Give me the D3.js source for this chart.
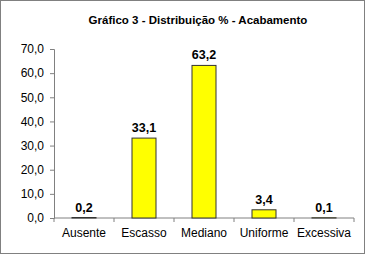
<!DOCTYPE html>
<html>
<head>
<meta charset="utf-8">
<script src="https://cdn.jsdelivr.net/npm/d3@7"></script>
<style>
  body { margin: 0; background: #fff; }
  svg { display: block; font-family: Arial, 'Liberation Sans', sans-serif; }
</style>
</head>
<body>
<div id="chart"></div>
<script>
const categories = ['Ausente', 'Escasso', 'Mediano', 'Uniforme', 'Excessiva']
const values = [0.2, 33.1, 63.2, 3.4, 0.1]
const yTicks = [0, 10, 20, 30, 40, 50, 60, 70]
const title = 'Gráfico 3 - Distribuição % - Acabamento'

const W = 365
const H = 254
const margin = { top: 49, left: 54, right: 11, bottom: 36 }

const svg = d3
  .select('#chart')
  .append('svg')
  .attr('width', W)
  .attr('height', H)

// outer frame
svg
  .append('rect')
  .attr('x', 0.5)
  .attr('y', 0.5)
  .attr('width', W - 1)
  .attr('height', H - 1)
  .attr('fill', '#fff')
  .attr('stroke', '#808080')

svg
  .append('text')
  .text(title)
  .attr('x', 198)
  .attr('y', 24)
  .attr('text-anchor', 'middle')
  .style('font-size', '11.5px')
  .style('font-weight', 'bold')

const x = d3
  .scaleBand()
  .domain(categories)
  .range([margin.left, W - margin.right])
  .paddingInner(0.6)
  .paddingOuter(0.3)

const y = d3
  .scaleLinear()
  .domain([0, 70])
  .range([H - margin.bottom, margin.top])

const fmt = v => d3.format('.1f')(v).replace('.', ',')

// y axis
const yAxis = svg
  .append('g')
  .attr('transform', 'translate(' + margin.left + ',0)')
  .call(d3.axisLeft(y).tickValues(yTicks).tickFormat(fmt).tickSize(4).tickPadding(6))
yAxis.select('.domain').attr('stroke', '#808080')
yAxis.selectAll('.tick line').attr('stroke', '#808080')
yAxis.selectAll('text').style('font-size', '12px').attr('fill', '#000')

// x axis with ticks at category boundaries
const xAxisG = svg.append('g').attr('transform', 'translate(0,' + y(0) + ')')
xAxisG
  .append('line')
  .attr('x1', margin.left)
  .attr('x2', W - margin.right)
  .attr('stroke', '#808080')
const step = x.step()
const bounds = categories.map(c => x(c) - (step - x.bandwidth()) / 2)
bounds.push(W - margin.right)
xAxisG
  .selectAll('.xtick')
  .data(bounds)
  .enter()
  .append('line')
  .attr('x1', d => d)
  .attr('x2', d => d)
  .attr('y1', 0)
  .attr('y2', 4)
  .attr('stroke', '#808080')

xAxisG
  .selectAll('.xlabel')
  .data(categories)
  .enter()
  .append('text')
  .text(d => d)
  .attr('x', d => x(d) + x.bandwidth() / 2)
  .attr('y', 19)
  .attr('text-anchor', 'middle')
  .style('font-size', '12px')

// bars
svg
  .selectAll('.bar')
  .data(values)
  .enter()
  .append('rect')
  .attr('x', (d, i) => x(categories[i]))
  .attr('y', d => y(d))
  .attr('width', x.bandwidth())
  .attr('height', d => y(0) - y(d))
  .attr('fill', '#ffff00')
  .attr('stroke', '#333')
  .attr('stroke-width', 1)

svg
  .selectAll('.val')
  .data(values)
  .enter()
  .append('text')
  .text(d => fmt(d))
  .attr('x', (d, i) => x(categories[i]) + x.bandwidth() / 2)
  .attr('y', d => y(d) - 6)
  .attr('text-anchor', 'middle')
  .style('font-size', '12.5px')
  .style('font-weight', 'bold')
</script>
</body>
</html>
